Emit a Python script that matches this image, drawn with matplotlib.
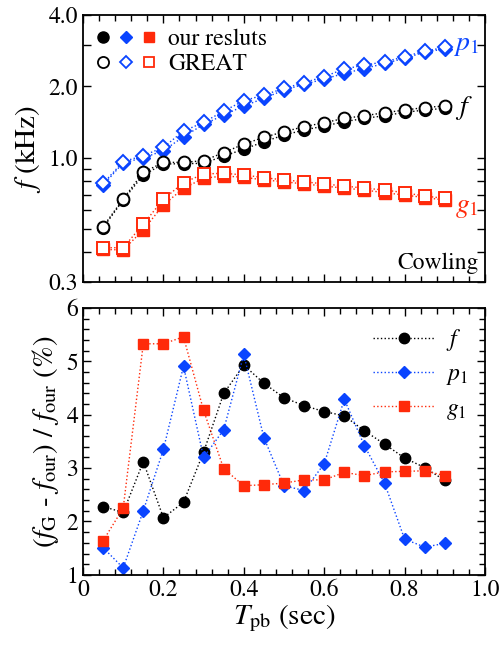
import numpy as np
import matplotlib
matplotlib.use("Agg")
import matplotlib.pyplot as plt
from matplotlib.lines import Line2D
from matplotlib.legend_handler import HandlerTuple
from matplotlib.ticker import FixedLocator, MultipleLocator, NullFormatter, FuncFormatter

plt.rcParams['font.family'] = ['STIXGeneral', 'DejaVu Serif']
plt.rcParams['mathtext.fontset'] = 'stix'

BLUE = '#0a44ff'
RED = '#ff2a0a'

# bounce times (sec)
t_pb = [0.05, 0.10, 0.15, 0.20, 0.25, 0.30, 0.35, 0.40, 0.45,
        0.50, 0.55, 0.60, 0.65, 0.70, 0.75, 0.80, 0.85, 0.90]

# frequencies (kHz), our results
f_our = [0.508, 0.664, 0.847, 0.942, 0.945, 0.948, 1.018, 1.087, 1.169,
         1.248, 1.310, 1.362, 1.420, 1.467, 1.505, 1.556, 1.590, 1.618]
p1_our = [0.768, 0.953, 1.000, 1.072, 1.228, 1.383, 1.516, 1.654, 1.782,
          1.932, 2.042, 2.150, 2.270, 2.380, 2.500, 2.630, 2.790, 2.880]
g1_our = [0.411, 0.409, 0.497, 0.633, 0.744, 0.820, 0.839, 0.828, 0.807,
          0.793, 0.776, 0.761, 0.745, 0.732, 0.713, 0.697, 0.680, 0.664]

# frequencies (kHz), GREAT
f_great = [0.513, 0.671, 0.869, 0.957, 0.957, 0.973, 1.052, 1.143, 1.220,
           1.289, 1.353, 1.407, 1.467, 1.505, 1.550, 1.590, 1.630, 1.654]
p1_great = [0.780, 0.964, 1.022, 1.107, 1.297, 1.411, 1.575, 1.741, 1.841,
            1.963, 2.075, 2.200, 2.370, 2.460, 2.540, 2.670, 2.820, 2.920]
g1_great = [0.418, 0.418, 0.526, 0.669, 0.786, 0.855, 0.861, 0.847, 0.825,
            0.807, 0.793, 0.776, 0.761, 0.745, 0.732, 0.713, 0.690, 0.675]

# relative differences (%)
f_diff = [2.28, 2.17, 3.12, 2.07, 2.36, 3.30, 4.40, 4.93, 4.59,
          4.32, 4.17, 4.06, 3.98, 3.70, 3.45, 3.19, 3.01, 2.77]
p1_diff = [1.51, 1.13, 2.20, 3.35, 4.91, 3.20, 3.72, 5.13, 3.57,
           2.67, 2.58, 3.08, 4.29, 3.42, 2.72, 1.67, 1.52, 1.59]
g1_diff = [1.64, 2.25, 5.33, 5.33, 5.46, 4.08, 2.99, 2.67, 2.69,
           2.72, 2.78, 2.78, 2.92, 2.86, 2.93, 2.94, 2.95, 2.86]

fig = plt.figure(figsize=(5.0, 6.54), dpi=100)
ax1 = fig.add_axes([0.166, 0.569, 0.804, 0.408])
ax2 = fig.add_axes([0.166, 0.121, 0.804, 0.408])

lw = 1.0
# top panel: frequencies
ax1.plot(t_pb, f_our, ':', color='black', lw=lw, marker='o', ms=8.5,
         mfc='black', mec='black', zorder=3)
ax1.plot(t_pb, f_great, ':', color='black', lw=lw, marker='o', ms=8.5,
         mfc='white', mec='black', mew=1.4, zorder=4)
ax1.plot(t_pb, p1_our, ':', color=BLUE, lw=lw, marker='D', ms=6.8,
         mfc=BLUE, mec=BLUE, zorder=3)
ax1.plot(t_pb, p1_great, ':', color=BLUE, lw=lw, marker='D', ms=6.8,
         mfc='white', mec=BLUE, mew=1.4, zorder=4)
ax1.plot(t_pb, g1_our, ':', color=RED, lw=lw, marker='s', ms=8,
         mfc=RED, mec=RED, zorder=3)
ax1.plot(t_pb, g1_great, ':', color=RED, lw=lw, marker='s', ms=8,
         mfc='white', mec=RED, mew=1.4, zorder=4)

ax1.set_yscale('log')
ax1.set_ylim(0.3, 4.0)
ax1.yaxis.set_major_locator(FixedLocator([0.3, 1.0, 2.0, 4.0]))
ax1.yaxis.set_minor_locator(FixedLocator([0.4, 0.5, 0.6, 0.7, 0.8, 0.9, 3.0]))
ax1.yaxis.set_major_formatter(FuncFormatter(lambda v, p: f'{v:.1f}'))
ax1.yaxis.set_minor_formatter(NullFormatter())
ax1.set_ylabel(r'$f$ (kHz)', fontsize=21, labelpad=4)

ax1.text(0.985, 0.885, r'$p_1$', color=BLUE, fontsize=20,
         transform=ax1.transAxes, ha='right', va='center')
ax1.text(0.925, 0.65, r'$f$', color='black', fontsize=20,
         transform=ax1.transAxes, ha='left', va='center')
ax1.text(0.985, 0.28, r'$g_1$', color=RED, fontsize=20,
         transform=ax1.transAxes, ha='right', va='center')
ax1.text(0.985, 0.03, 'Cowling', fontsize=17,
         transform=ax1.transAxes, ha='right', va='bottom')

h_our = (Line2D([], [], ls='none', marker='o', ms=8, mfc='black', mec='black'),
         Line2D([], [], ls='none', marker='D', ms=6.5, mfc=BLUE, mec=BLUE),
         Line2D([], [], ls='none', marker='s', ms=7.5, mfc=RED, mec=RED))
h_great = (Line2D([], [], ls='none', marker='o', ms=8, mfc='white', mec='black', mew=1.3),
           Line2D([], [], ls='none', marker='D', ms=6.5, mfc='white', mec=BLUE, mew=1.3),
           Line2D([], [], ls='none', marker='s', ms=7.5, mfc='white', mec=RED, mew=1.3))
ax1.legend([h_our, h_great], ['our resluts', 'GREAT'],
           handler_map={tuple: HandlerTuple(ndivide=None, pad=0.5)},
           loc='upper left', bbox_to_anchor=(-0.005, 1.01), frameon=False,
           fontsize=17, handlelength=2.4, handletextpad=0.6,
           labelspacing=0.15, borderaxespad=0.3)

# bottom panel: relative difference
ax2.plot(t_pb, f_diff, ':', color='black', lw=lw, marker='o', ms=7.5,
         mfc='black', mec='black', label=r'$f$')
ax2.plot(t_pb, p1_diff, ':', color=BLUE, lw=lw, marker='D', ms=6.3,
         mfc=BLUE, mec=BLUE, label=r'$p_1$')
ax2.plot(t_pb, g1_diff, ':', color=RED, lw=lw, marker='s', ms=7.5,
         mfc=RED, mec=RED, label=r'$g_1$')

ax2.set_ylim(1, 6)
ax2.yaxis.set_major_locator(MultipleLocator(1))
ax2.yaxis.set_minor_locator(MultipleLocator(0.2))
ax2.set_xlabel(r'$T_{\rm pb}$ (sec)', fontsize=21, labelpad=1)
ax2.set_ylabel(r'($f_{\rm G}$ - $f_{\rm our}$) / $f_{\rm our}$ (%)',
               fontsize=21, labelpad=4)
ax2.legend(loc='upper right', bbox_to_anchor=(1.0, 0.99), frameon=False,
           fontsize=17, handlelength=2.6, handletextpad=0.5,
           labelspacing=0.45, borderaxespad=0.3)

for ax in (ax1, ax2):
    ax.set_xlim(0, 1.0)
    ax.xaxis.set_major_locator(MultipleLocator(0.2))
    ax.xaxis.set_minor_locator(MultipleLocator(0.04))
    ax.xaxis.set_major_formatter(
        FuncFormatter(lambda v, p: '0' if abs(v) < 1e-9 else f'{v:.1f}'))
    ax.tick_params(which='both', direction='in', top=True, right=True,
                   labelsize=17, width=1.0)
    ax.tick_params(which='major', length=6)
    ax.tick_params(which='minor', length=4)
    for s in ax.spines.values():
        s.set_linewidth(1.3)

ax1.tick_params(labelbottom=False)
ax1.tick_params(which='minor', axis='y', length=6)

fig.savefig('out.png', dpi=100)
